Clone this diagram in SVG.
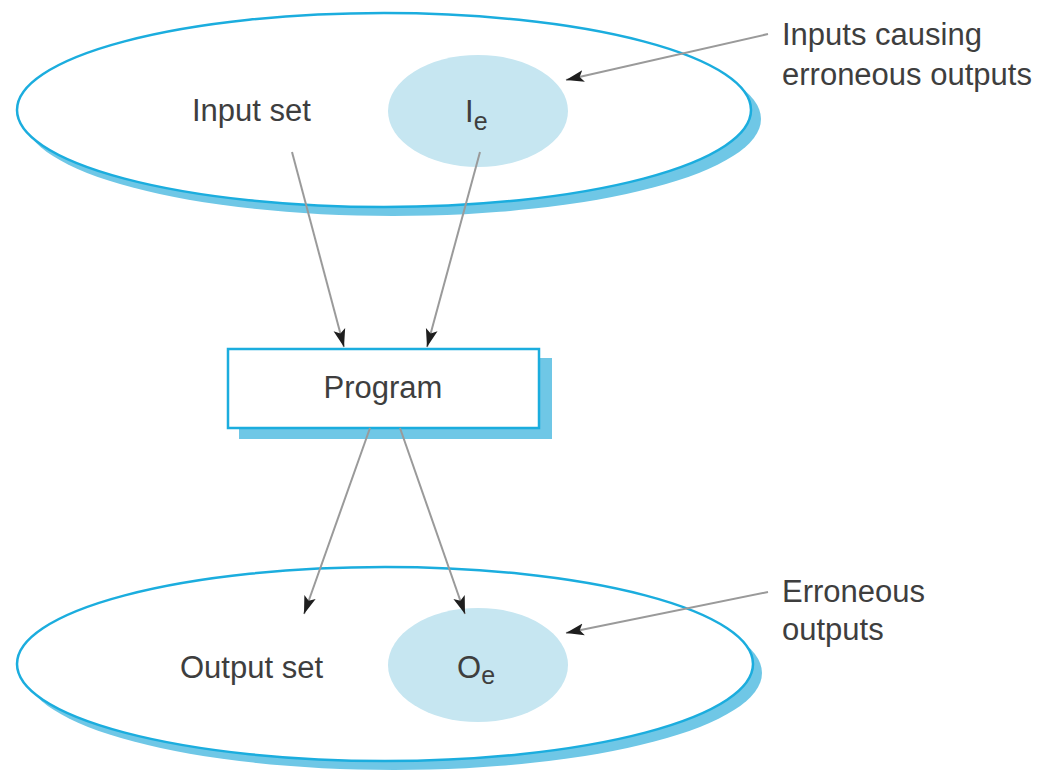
<svg xmlns="http://www.w3.org/2000/svg" width="1045" height="773" viewBox="0 0 1045 773">
<defs>
<style>
.shadow{fill:#6fc7e6;stroke:none}
.outer{fill:#ffffff;stroke:#1badde;stroke-width:2.5}
.sub{fill:#c6e6f1;stroke:none}
.lbl{font-family:"Liberation Sans","DejaVu Sans",sans-serif;font-size:31px;fill:#3e3e3e}
.subs{font-size:25px}
.conn{stroke:#9a9a9a;stroke-width:2;fill:none;marker-end:url(#arr)}
</style>
<marker id="arr" markerUnits="userSpaceOnUse" markerWidth="20" markerHeight="14" viewBox="0 0 20 14" refX="18" refY="7" orient="auto">
<path d="M0,1 L18,7 L0,13 L4,7 z" fill="#1e1e1e"/>
</marker>
</defs>
<rect width="1045" height="773" fill="#ffffff"/>

<g id="input-set">
<ellipse class="shadow" cx="393" cy="119" rx="368" ry="97"/>
<ellipse class="outer" cx="384" cy="110" rx="367" ry="97"/>
<text class="lbl" x="192" y="121">Input set</text>
</g>

<g id="ie">
<ellipse class="sub" cx="478" cy="111" rx="90" ry="56"/>
<text class="lbl" x="465" y="122">I<tspan class="subs" dy="8">e</tspan></text>
</g>

<g id="program">
<rect class="shadow" x="239" y="358" width="313" height="81"/>
<rect class="outer" x="228" y="349" width="311" height="79" stroke-width="3"/>
<text class="lbl" x="383" y="398" text-anchor="middle">Program</text>
</g>

<g id="output-set">
<ellipse class="shadow" cx="394" cy="673" rx="368" ry="97"/>
<ellipse class="outer" cx="385" cy="664" rx="368" ry="97"/>
<text class="lbl" x="180" y="678">Output set</text>
</g>

<g id="oe">
<ellipse class="sub" cx="478" cy="665" rx="90" ry="57"/>
<text class="lbl" x="457" y="678">O<tspan class="subs" dy="6">e</tspan></text>
</g>

<g id="note-inputs">
<text class="lbl" x="782" y="45">Inputs causing</text>
<text class="lbl" x="782" y="85">erroneous outputs</text>
</g>

<g id="note-outputs">
<text class="lbl" x="782" y="602">Erroneous</text>
<text class="lbl" x="782" y="640">outputs</text>
</g>

<g id="connectors">
<line class="conn" x1="292" y1="152" x2="344" y2="347"/>
<line class="conn" x1="480" y1="152" x2="427" y2="347"/>
<line class="conn" x1="370" y1="428" x2="304" y2="614"/>
<line class="conn" x1="400" y1="428" x2="465" y2="614"/>
<line class="conn" x1="768" y1="34" x2="566" y2="80"/>
<line class="conn" x1="768" y1="592" x2="566" y2="633"/>
</g>
</svg>
